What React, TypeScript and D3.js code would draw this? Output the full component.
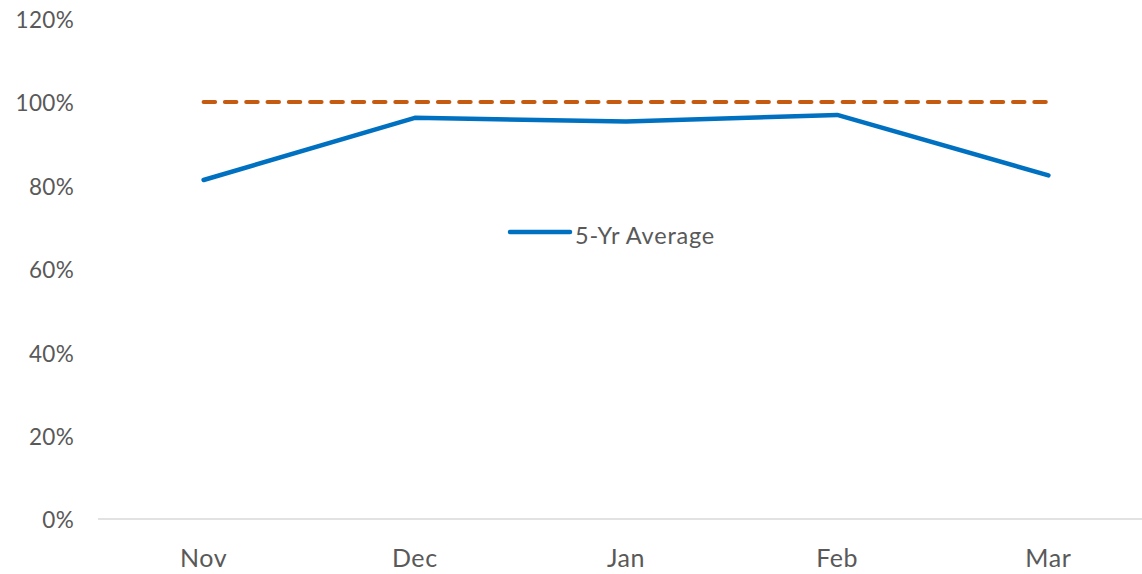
import React from 'react'
import * as d3 from 'd3'

const months = ['Nov', 'Dec', 'Jan', 'Feb', 'Mar']
const fiveYrAverage = [81.3, 96.2, 95.3, 96.9, 82.4]
const reference = [100, 100, 100, 100, 100]
const yTicks = [0, 20, 40, 60, 80, 100, 120]

const W = 1142
const H = 574
const FONT = 'Lato, "Open Sans", sans-serif'

export default function App() {
    const x = d3.scalePoint<string>()
        .domain(months)
        .range([98, 1154])
        .padding(0.5)
    const y = d3.scaleLinear().domain([0, 120]).range([519, 18.6])

    const line = d3.line<number>()
        .x((d, i) => x(months[i]) as number)
        .y(d => y(d))

    return (
        <svg width={W} height={H} style={{ position: 'absolute', left: 0, top: 0 }}>
            <rect width={W} height={H} fill="white" />
            {/* y tick labels */}
            {yTicks.map(t => (
                <text key={t} x={74} y={y(t) + 1.5} dy="0.35em" textAnchor="end"
                    fontFamily={FONT} fontSize={22.5} letterSpacing={0.3} fill="#595959">{t}%</text>
            ))}
            {/* baseline */}
            <line x1={98} x2={1154} y1={y(0)} y2={y(0)} stroke="#d9d9d9" strokeWidth={1.5} />
            {/* x labels */}
            {months.map(m => (
                <text key={m} x={x(m)} y={567} textAnchor="middle"
                    fontFamily={FONT} fontSize={25} letterSpacing={0.6} fill="#595959">{m}</text>
            ))}
            <path d={line(reference) || ''} fill="none" stroke="#C55A11" strokeWidth={4}
                strokeDasharray="11.5,9.8" strokeLinecap="round" />
            <path d={line(fiveYrAverage) || ''} fill="none" stroke="#0070C0" strokeWidth={4.5}
                strokeLinecap="round" strokeLinejoin="round" />
            {/* legend */}
            <line x1={510} x2={570} y1={232} y2={232} stroke="#0070C0" strokeWidth={4.5} strokeLinecap="round" />
            <text x={575} y={244} fontFamily={FONT} fontSize={23.5} letterSpacing={0.8} fill="#595959">5-Yr Average</text>
        </svg>
    )
}
